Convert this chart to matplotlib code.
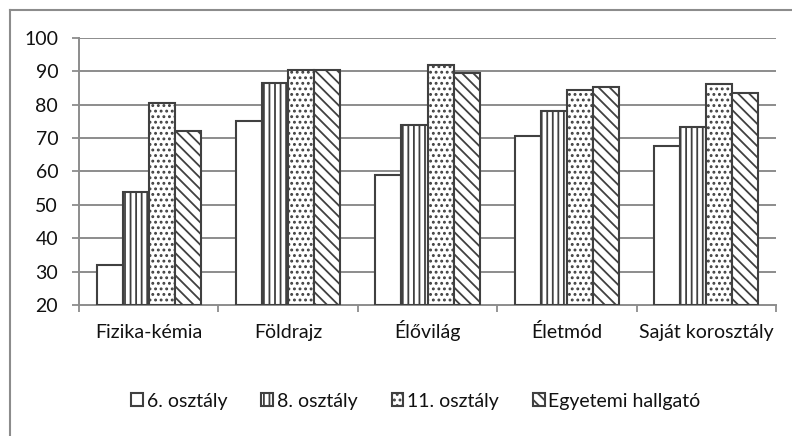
import matplotlib
matplotlib.use("Agg")
import matplotlib.pyplot as plt
import numpy as np
from matplotlib.lines import Line2D

plt.rcParams['font.family'] = ['Lato', 'DejaVu Sans']
plt.rcParams['hatch.linewidth'] = 1.3

categories = ["Fizika-kémia", "Földrajz", "Élővilág", "Életmód", "Saját korosztály"]
series_names = ["6. osztály", "8. osztály", "11. osztály", "Egyetemi hallgató"]
v6 = [32, 75, 59, 70.5, 67.5]
v8 = [54, 86.5, 74, 78, 73.3]
v11 = [80.5, 90.5, 91.8, 84.5, 86.2]
vegy = [72, 90.5, 89.5, 85.2, 83.6]
yticks = [20, 30, 40, 50, 60, 70, 80, 90, 100]

values = [v6, v8, v11, vegy]
hatches = [None, '|||', '...', '\\\\\\']
edge = '#404040'
grid_c = '#8c8c8c'
fs = 14

fig = plt.figure(figsize=(7.92, 4.36), dpi=100)
# outer chart frame (cropped)
fig.add_artist(Line2D([10/792, 1.0], [1-10/436, 1-10/436], transform=fig.transFigure, color=grid_c, lw=1.5))
fig.add_artist(Line2D([10/792, 10/792], [1-10/436, 0.0], transform=fig.transFigure, color=grid_c, lw=1.5))

ax = fig.add_axes([79/792, 1-305/436, (776-79)/792, (305-38)/436])
x = np.arange(len(categories))
w = 0.187
for i, (vals, h) in enumerate(zip(values, hatches)):
    off = (i - 1.5) * w
    ax.bar(x + off, np.array(vals) - 20, w, bottom=20, color='white', edgecolor=edge,
           hatch=h, linewidth=1.5, label=series_names[i], zorder=3)

ax.set_ylim(20, 100)
ax.set_xlim(-0.5, len(categories) - 0.5)
ax.set_yticks(yticks)
ax.set_yticklabels([str(t) for t in yticks])
for t in yticks[1:]:
    ax.axhline(t, color=grid_c, lw=1.4, zorder=1)
ax.set_xticks(x)
ax.set_xticklabels(categories)
for lab in ax.get_xticklabels():
    lab.set_verticalalignment('baseline')
ax.set_xticks(np.arange(-0.5, len(categories)), minor=True)
ax.tick_params(axis='x', which='major', length=0, pad=24, labelsize=fs, labelcolor='#111111')
ax.tick_params(axis='x', which='minor', length=5, width=1.3, color=grid_c)
ax.tick_params(axis='y', length=5, width=1.3, color=grid_c, pad=10, labelsize=fs, labelcolor='#111111')
for s in ['top', 'right']:
    ax.spines[s].set_visible(False)
for s in ['left', 'bottom']:
    ax.spines[s].set_color(grid_c)
    ax.spines[s].set_linewidth(1.4)

leg = fig.legend(loc='center', bbox_to_anchor=(416/792, 1-401/436), ncol=4, frameon=False,
                 fontsize=fs, handlelength=0.6, handleheight=0.6, handletextpad=0.2,
                 columnspacing=1.75)
for t in leg.get_texts():
    t.set_color('#111111')

fig.savefig('out.png', dpi=100)
